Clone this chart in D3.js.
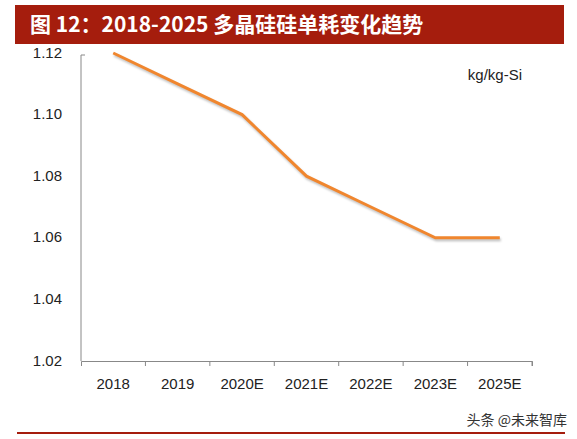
<!DOCTYPE html>
<html>
<head>
<meta charset="utf-8">
<script src="https://d3js.org/d3.v7.min.js"></script>
<style>
  body { margin: 0; background: #fff; }
  svg { font-family: "Liberation Sans", Arial, sans-serif; }
</style>
</head>
<body>
<div id="chart"></div>
<script>
// chart data
const years = ["2018", "2019", "2020E", "2021E", "2022E", "2023E", "2025E"];
const usage = [1.12, 1.11, 1.10, 1.08, 1.07, 1.06, 1.06];
const yTicks = [1.02, 1.04, 1.06, 1.08, 1.10, 1.12];

const width = 577, height = 439;
const margin = {top: 53, right: 45, bottom: 78, left: 81};

const svg = d3.select("#chart").append("svg")
  .attr("width", width).attr("height", height);

// title bar
svg.append("rect").attr("x", 15).attr("y", 5).attr("width", 549).attr("height", 39)
  .attr("fill", "#a51d0d");
svg.append("text").attr("x", 30).attr("y", 32)
  .attr("fill", "#fff").attr("font-size", 21).attr("font-weight", "bold")
  .attr("font-family", "'Noto Sans CJK SC', sans-serif")
  .text("图 12：2018-2025 多晶硅硅单耗变化趋势");

const x = d3.scaleBand().domain(years)
  .range([margin.left, width - margin.right]);
const y = d3.scaleLinear().domain([1.02, 1.12])
  .range([height - margin.bottom, margin.top]);

// x axis
svg.append("g")
  .attr("transform", `translate(0,${height - margin.bottom})`)
  .call(d3.axisBottom(x).tickSizeOuter(5).tickSizeInner(5))
  .call(g => g.selectAll(".tick line").attr("transform", `translate(${x.bandwidth() / 2},0)`))
  .call(g => g.select(".domain").attr("stroke", "#888"))
  .call(g => g.selectAll(".tick line").attr("stroke", "#888"))
  .call(g => g.selectAll("text").attr("font-size", 15).attr("fill", "#222").attr("dy", "1.3em"));

// y axis: labels only, no ticks
svg.append("line")
  .attr("x1", margin.left).attr("x2", margin.left)
  .attr("y1", y(1.12) + 2).attr("y2", height - margin.bottom)
  .attr("stroke", "#888");
svg.append("line")
  .attr("x1", margin.left).attr("x2", margin.left + 4)
  .attr("y1", y(1.12) + 2).attr("y2", y(1.12) + 2)
  .attr("stroke", "#888");
svg.selectAll(".ylab").data(yTicks).enter().append("text")
  .attr("x", 62).attr("y", d => y(d)).attr("dy", "0.3em")
  .attr("text-anchor", "end").attr("font-size", 15).attr("fill", "#222")
  .text(d => d.toFixed(2));

// line
const line = d3.line()
  .x((d, i) => x(years[i]) + x.bandwidth() / 2)
  .y(d => y(d));
svg.append("path").datum(usage)
  .attr("d", line).attr("fill", "none")
  .attr("stroke", "#f0862e").attr("stroke-width", 3)
  .style("filter", "drop-shadow(1px 2px 1px rgba(0,0,0,0.25))");

// unit
svg.append("text").attr("x", 522).attr("y", 80)
  .attr("text-anchor", "end").attr("font-size", 15).attr("fill", "#222")
  .text("kg/kg-Si");

// watermark and bottom rule
svg.append("text").attr("x", 567).attr("y", 425)
  .attr("text-anchor", "end").attr("font-size", 14).attr("fill", "#333")
  .attr("font-family", "'Noto Sans CJK SC', sans-serif")
  .text("头条 @未来智库");
svg.append("line").attr("x1", 17).attr("x2", 565)
  .attr("y1", 433).attr("y2", 433)
  .attr("stroke", "#a51d0d").attr("stroke-width", 2);
</script>
</body>
</html>
